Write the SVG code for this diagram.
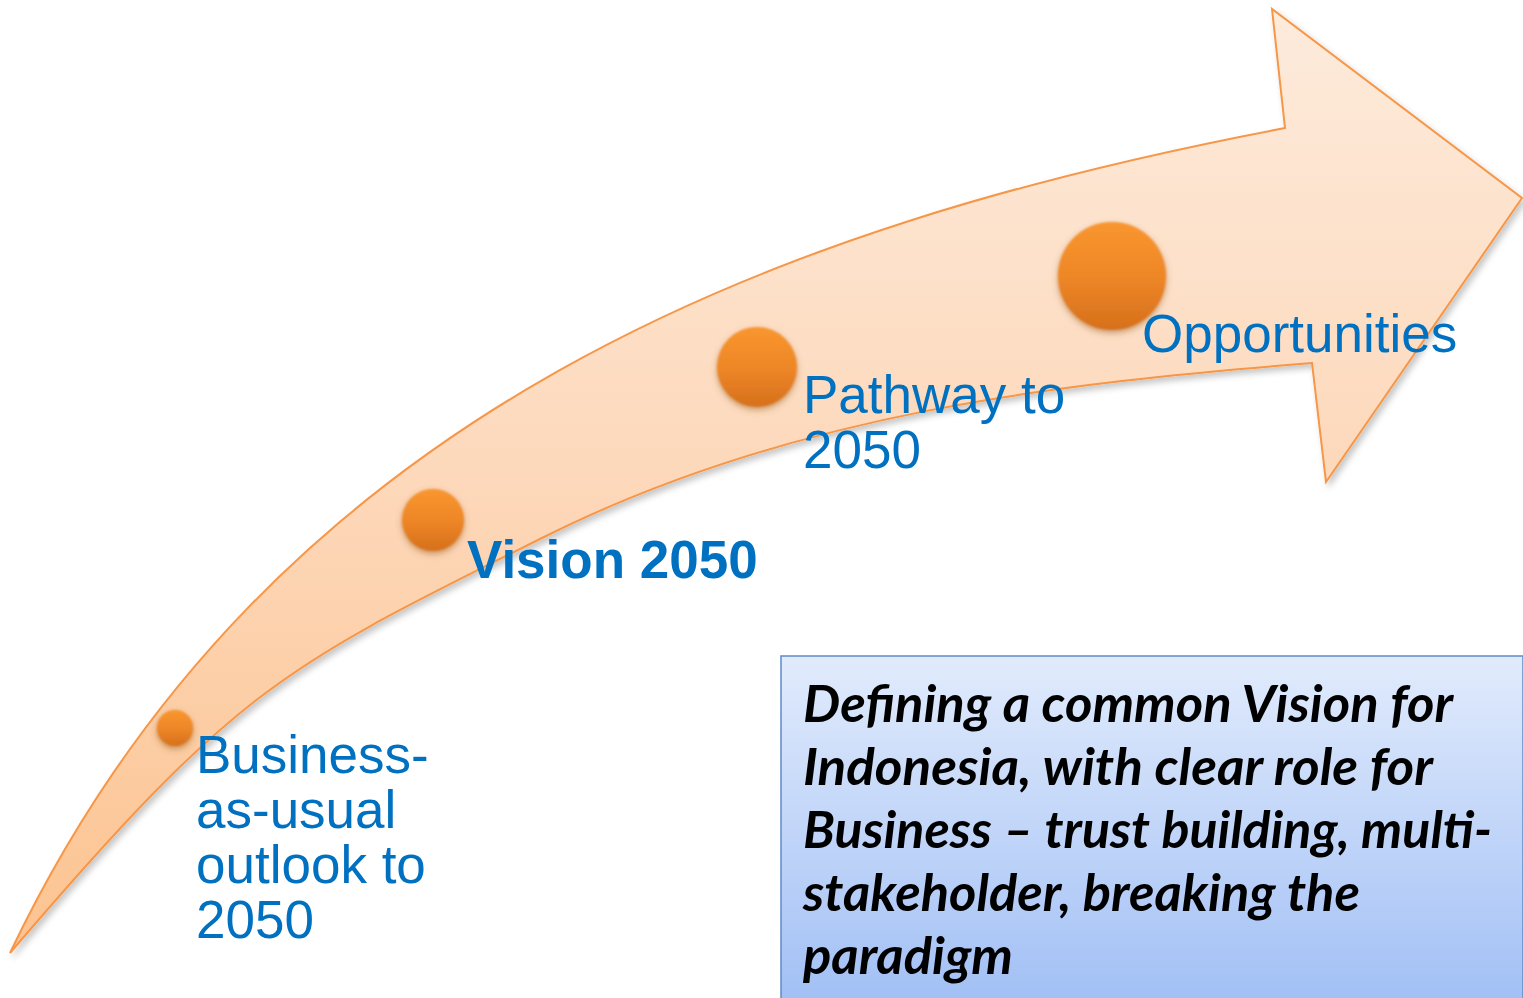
<svg xmlns="http://www.w3.org/2000/svg" width="1523" height="998" viewBox="0 0 1523 998">
  <style>
    .lbl { font-family: "Liberation Sans", Arial, sans-serif; font-size: 53px; fill: #0070c0; }
    .bold { font-weight: bold; }
    .note { font-family: Lato, "Open Sans", sans-serif; font-size: 52px; font-weight: bold; font-style: italic; fill: #000; }
    .dot { fill: url(#dotGrad); filter: url(#dotShadow); }
  </style>
  <defs>
    <linearGradient id="arrowGrad" x1="0" y1="0" x2="0" y2="1">
      <stop offset="0" stop-color="#fdebdc"/>
      <stop offset="0.5" stop-color="#fdd8ba"/>
      <stop offset="1" stop-color="#fcc390"/>
    </linearGradient>
    <linearGradient id="dotGrad" x1="0" y1="0" x2="0" y2="1">
      <stop offset="0" stop-color="#f9962f"/>
      <stop offset="0.5" stop-color="#ee8727"/>
      <stop offset="1" stop-color="#d6701c"/>
    </linearGradient>
    <linearGradient id="boxGrad" x1="0" y1="0" x2="0" y2="1">
      <stop offset="0" stop-color="#e1ebfc"/>
      <stop offset="1" stop-color="#a2c0f5"/>
    </linearGradient>
    <filter id="arrowShadow" x="-5%" y="-5%" width="110%" height="110%">
      <feDropShadow dx="3" dy="4" stdDeviation="3" flood-color="#000" flood-opacity="0.22"/>
    </filter>
    <filter id="dotShadow" x="-30%" y="-30%" width="160%" height="160%">
      <feGaussianBlur in="SourceGraphic" stdDeviation="1.2" result="soft"/>
      <feDropShadow in="soft" dx="0" dy="3" stdDeviation="3" flood-color="#8a4a12" flood-opacity="0.45"/>
    </filter>
  </defs>

  <g id="connectors">
    <path id="main-arrow" fill="url(#arrowGrad)" stroke="#f79646" stroke-width="2" stroke-linejoin="miter" filter="url(#arrowShadow)"
      d="M10,953 C270,407 785,223 1285,128 L1272,9 L1522,198 L1326,482 L1312,363 C1062,383 794,412 544,537 C284,667 240,684 10,953 Z"/>
  </g>

  <g id="node-bau">
    <circle class="dot" cx="175" cy="728" r="18"/>
    <text class="lbl" x="196" y="773">Business-</text>
    <text class="lbl" x="196" y="828">as-usual</text>
    <text class="lbl" x="196" y="883">outlook to</text>
    <text class="lbl" x="196" y="938">2050</text>
  </g>

  <g id="node-vision">
    <circle class="dot" cx="433" cy="520" r="31"/>
    <text class="lbl bold" x="467" y="578">Vision 2050</text>
  </g>

  <g id="node-pathway">
    <circle class="dot" cx="757" cy="367" r="40"/>
    <text class="lbl" x="803" y="413">Pathway to</text>
    <text class="lbl" x="803" y="468">2050</text>
  </g>

  <g id="node-opportunities">
    <circle class="dot" cx="1112" cy="276" r="54"/>
    <text class="lbl" x="1142" y="352">Opportunities</text>
  </g>

  <g id="note">
    <rect x="781" y="656" width="742" height="346" fill="url(#boxGrad)" stroke="#5f8bc8" stroke-width="1.5"/>
    <text class="note" x="803" y="722" textLength="650" lengthAdjust="spacingAndGlyphs">Defining a common Vision for</text>
    <text class="note" x="803" y="785" textLength="630" lengthAdjust="spacingAndGlyphs">Indonesia, with clear role for</text>
    <text class="note" x="803" y="848" textLength="689" lengthAdjust="spacingAndGlyphs">Business – trust building, multi-</text>
    <text class="note" x="803" y="911" textLength="557" lengthAdjust="spacingAndGlyphs">stakeholder, breaking the</text>
    <text class="note" x="803" y="974" textLength="210" lengthAdjust="spacingAndGlyphs">paradigm</text>
  </g>
</svg>
